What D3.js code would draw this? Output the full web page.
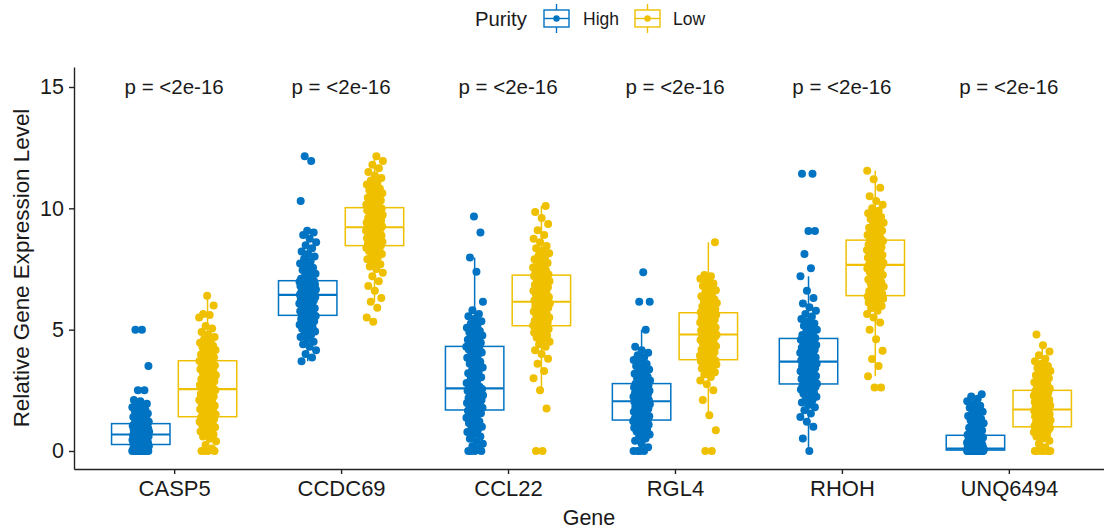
<!DOCTYPE html>
<html><head><meta charset="utf-8">
<script src="https://cdn.jsdelivr.net/npm/d3@7"></script>
<style>
body{margin:0;background:#fff}
svg{display:block}
text{font-family:"Liberation Sans",Arial,sans-serif}
</style>
</head><body>
<svg id="chart" width="1104" height="531"></svg>
<script>
// ---------- data ----------
const genes = ["CASP5","CCDC69","CCL22","RGL4","RHOH","UNQ6494"];
const groups = ["High","Low"];
const groupColors = ["#0073C2","#EFC000"];
const yTicks = [0,5,10,15];
const pLabels = ["p = <2e-16","p = <2e-16","p = <2e-16","p = <2e-16","p = <2e-16","p = <2e-16"];
const pLabelY = 15;

const casp5High = [0,0,0,0,0,0,0,0,0,0,0,0,0.03,0.05,0.08,0.1,0.12,0.14,0.16,0.18,0.2,0.21,0.23,0.24,0.26,
0.27,0.29,0.31,0.33,0.35,0.37,0.39,0.41,0.43,0.45,0.47,0.49,0.51,0.53,0.55,0.57,0.58,0.6,0.61,0.62,0.63,0.64,0.65,0.66,0.67,
0.69,0.71,0.73,0.75,0.77,0.79,0.8,0.82,0.84,0.86,0.88,0.9,0.92,0.94,0.96,0.98,1.0,1.02,1.04,1.06,1.08,1.09,1.1,1.11,1.12,
1.15,1.2,1.24,1.28,1.32,1.36,1.4,1.45,1.5,1.55,1.6,1.65,1.7,1.75,1.8,1.85,1.9,1.95,2.05,2.1,2.5,2.5,3.5,5.0,5.0];
const casp5Low = [0,0,0,0,0.1,0.25,0.4,0.5,0.6,0.68,0.75,0.8,0.86,0.92,0.98,1.03,1.08,1.12,1.16,1.2,1.24,1.28,1.32,1.36,1.39,
1.42,1.46,1.5,1.55,1.6,1.64,1.68,1.72,1.77,1.82,1.86,1.9,1.95,2.0,2.05,2.1,2.15,2.2,2.25,2.3,2.35,2.4,2.45,2.5,2.53,
2.57,2.62,2.67,2.72,2.77,2.82,2.87,2.92,2.97,3.02,3.07,3.12,3.17,3.22,3.27,3.32,3.37,3.42,3.47,3.52,3.56,3.6,3.64,3.68,3.71,
3.75,3.8,3.86,3.92,3.98,4.04,4.1,4.16,4.22,4.28,4.34,4.4,4.46,4.52,4.6,4.7,4.8,4.9,5.05,5.15,5.5,5.6,5.65,6.0,6.4];
const ccdc69High = [3.7,3.85,4.0,4.15,4.3,4.4,4.5,4.6,4.7,4.78,4.85,4.92,4.98,5.04,5.1,5.15,5.2,5.25,5.3,5.35,5.4,5.44,5.48,5.52,5.56,
5.6,5.64,5.68,5.72,5.76,5.8,5.84,5.88,5.92,5.96,6.0,6.04,6.08,6.12,6.16,6.2,6.24,6.27,6.3,6.33,6.35,6.37,6.39,6.41,6.42,
6.44,6.46,6.48,6.5,6.53,6.56,6.59,6.62,6.65,6.68,6.71,6.74,6.77,6.8,6.83,6.85,6.87,6.89,6.91,6.93,6.95,6.97,6.99,7.0,7.01,
7.04,7.1,7.16,7.22,7.3,7.38,7.46,7.55,7.64,7.73,7.82,7.92,8.02,8.12,8.22,8.35,8.48,8.6,8.75,8.9,9.0,9.08,10.3,11.95,12.15];
const ccdc69Low = [5.33,5.5,5.9,6.15,6.3,6.6,6.8,7.0,7.2,7.35,7.5,7.6,7.7,7.8,7.9,7.98,8.05,8.12,8.18,8.24,8.29,8.33,8.37,8.41,8.44,
8.47,8.5,8.53,8.56,8.59,8.62,8.65,8.68,8.71,8.74,8.77,8.8,8.84,8.88,8.92,8.96,9.0,9.04,9.08,9.11,9.14,9.16,9.18,9.2,9.21,
9.23,9.26,9.29,9.32,9.35,9.38,9.41,9.44,9.48,9.52,9.56,9.6,9.64,9.68,9.72,9.76,9.8,9.84,9.88,9.92,9.95,9.97,9.99,10.01,10.02,
10.05,10.1,10.15,10.2,10.26,10.32,10.38,10.44,10.5,10.56,10.62,10.68,10.75,10.82,10.9,10.98,11.06,11.15,11.25,11.35,11.5,11.65,11.8,11.95,12.15];
const ccl22High = [0,0,0,0,0.1,0.2,0.3,0.4,0.5,0.6,0.7,0.78,0.86,0.94,1.0,1.08,1.15,1.22,1.3,1.37,1.44,1.5,1.56,1.62,1.66,
1.7,1.74,1.78,1.82,1.86,1.9,1.94,1.98,2.02,2.06,2.1,2.14,2.18,2.22,2.26,2.3,2.34,2.38,2.42,2.45,2.48,2.51,2.53,2.55,2.57,
2.59,2.65,2.72,2.8,2.88,2.96,3.04,3.12,3.2,3.28,3.36,3.44,3.52,3.6,3.68,3.76,3.84,3.92,4.0,4.06,4.12,4.18,4.23,4.27,4.3,
4.34,4.4,4.46,4.52,4.58,4.64,4.7,4.76,4.82,4.88,4.94,5.0,5.08,5.16,5.25,5.35,5.45,5.55,5.65,5.8,6.15,7.39,7.97,9.0,9.66];
const ccl22Low = [0,0,1.75,2.5,3.0,3.3,3.6,3.8,4.0,4.15,4.3,4.4,4.5,4.6,4.68,4.75,4.82,4.88,4.94,4.99,5.03,5.07,5.1,5.12,5.14,
5.17,5.21,5.25,5.29,5.33,5.37,5.41,5.45,5.5,5.55,5.6,5.65,5.7,5.75,5.8,5.85,5.9,5.94,5.98,6.02,6.05,6.08,6.1,6.12,6.14,
6.16,6.2,6.25,6.3,6.35,6.4,6.45,6.5,6.55,6.6,6.65,6.7,6.75,6.8,6.85,6.9,6.95,7.0,7.05,7.1,7.14,7.18,7.21,7.23,7.24,
7.27,7.32,7.38,7.44,7.5,7.56,7.62,7.68,7.75,7.82,7.9,7.98,8.06,8.15,8.25,8.35,8.45,8.6,8.75,8.9,9.1,9.35,9.6,9.85,10.1];
const rgl4High = [0,0,0,0,0.15,0.3,0.42,0.52,0.6,0.68,0.74,0.8,0.86,0.91,0.96,1.0,1.04,1.08,1.12,1.15,1.18,1.21,1.23,1.25,1.26,
1.28,1.31,1.34,1.37,1.4,1.43,1.46,1.5,1.54,1.58,1.62,1.66,1.7,1.74,1.78,1.82,1.86,1.9,1.93,1.96,1.98,2.0,2.02,2.03,2.04,
2.06,2.09,2.12,2.15,2.18,2.21,2.24,2.27,2.3,2.33,2.36,2.39,2.42,2.45,2.48,2.51,2.54,2.57,2.6,2.63,2.66,2.69,2.72,2.75,2.77,
2.8,2.85,2.9,2.95,3.0,3.06,3.12,3.18,3.24,3.3,3.36,3.42,3.5,3.58,3.66,3.75,3.85,3.95,4.05,4.15,4.3,5.0,6.15,6.15,7.37];
const rgl4Low = [0,0,0.85,1.47,2.1,2.5,2.75,2.9,3.05,3.15,3.25,3.33,3.4,3.46,3.52,3.56,3.6,3.63,3.66,3.68,3.7,3.71,3.72,3.73,3.74,
3.77,3.82,3.87,3.92,3.97,4.02,4.07,4.12,4.17,4.22,4.27,4.32,4.37,4.42,4.47,4.52,4.57,4.62,4.66,4.7,4.73,4.75,4.77,4.78,4.79,
4.81,4.85,4.89,4.93,4.97,5.01,5.05,5.09,5.13,5.17,5.21,5.25,5.29,5.33,5.37,5.41,5.45,5.49,5.53,5.57,5.61,5.64,5.66,5.68,5.69,
5.72,5.76,5.8,5.85,5.9,5.95,6.0,6.05,6.1,6.15,6.2,6.25,6.3,6.38,6.46,6.54,6.62,6.7,6.8,6.9,7.0,7.1,7.2,7.25,8.6];
const rhohHigh = [0,0.51,1.0,1.2,1.4,1.55,1.68,1.8,1.9,2.0,2.08,2.16,2.24,2.3,2.36,2.42,2.48,2.53,2.57,2.61,2.64,2.67,2.7,2.72,2.74,
2.77,2.81,2.85,2.89,2.93,2.97,3.01,3.05,3.09,3.13,3.17,3.21,3.25,3.29,3.33,3.37,3.41,3.45,3.49,3.53,3.57,3.6,3.63,3.65,3.67,
3.69,3.73,3.77,3.81,3.85,3.89,3.93,3.97,4.01,4.05,4.09,4.13,4.17,4.21,4.25,4.29,4.33,4.37,4.41,4.45,4.5,4.54,4.58,4.61,4.63,
4.66,4.72,4.78,4.85,4.92,5.0,5.08,5.16,5.25,5.34,5.44,5.54,5.65,5.78,5.92,6.08,6.3,6.6,7.2,7.53,8.12,9.07,9.07,11.42,11.42];
const rhohLow = [2.62,2.62,3.08,3.5,3.79,4.13,4.6,5.0,5.3,5.5,5.65,5.78,5.88,5.97,6.05,6.12,6.18,6.23,6.27,6.3,6.32,6.34,6.36,6.37,6.38,
6.41,6.47,6.53,6.59,6.65,6.71,6.77,6.83,6.89,6.95,7.01,7.07,7.13,7.19,7.25,7.31,7.37,7.42,7.47,7.52,7.56,7.6,7.63,7.65,7.66,
7.68,7.72,7.76,7.8,7.84,7.88,7.92,7.96,8.0,8.04,8.08,8.12,8.16,8.2,8.24,8.28,8.32,8.36,8.4,8.45,8.5,8.55,8.6,8.65,8.68,
8.72,8.78,8.84,8.9,8.96,9.02,9.08,9.14,9.2,9.27,9.34,9.41,9.48,9.56,9.64,9.72,9.8,9.9,10.0,10.15,10.3,10.5,10.85,11.2,11.55];
const unq6494High = [0,0,0,0,0,0,0,0,0,0,0,0,0,0,0,0,0,0,0,0,0,0,0.01,0.02,0.03,
0.04,0.045,0.05,0.055,0.06,0.065,0.07,0.072,0.074,0.076,0.078,0.08,0.082,0.084,0.086,0.088,0.09,0.092,0.094,0.096,0.097,0.098,0.099,0.1,0.1,
0.1,0.12,0.14,0.16,0.18,0.2,0.22,0.24,0.26,0.28,0.3,0.32,0.34,0.36,0.38,0.41,0.44,0.47,0.5,0.53,0.56,0.59,0.61,0.63,0.64,
0.67,0.72,0.78,0.84,0.9,0.96,1.02,1.08,1.14,1.2,1.26,1.32,1.38,1.44,1.5,1.55,1.62,1.7,1.78,1.86,1.95,2.05,2.15,2.25,2.34];
const unq6494Low = [0,0,0,0,0,0,0.15,0.3,0.42,0.52,0.6,0.66,0.72,0.77,0.81,0.84,0.87,0.89,0.91,0.93,0.95,0.96,0.97,0.98,0.985,
1.0,1.03,1.06,1.09,1.12,1.15,1.18,1.21,1.24,1.27,1.3,1.33,1.36,1.39,1.42,1.45,1.48,1.51,1.54,1.57,1.6,1.63,1.66,1.68,1.7,
1.72,1.75,1.78,1.81,1.84,1.87,1.9,1.93,1.96,1.99,2.02,2.05,2.08,2.11,2.14,2.17,2.2,2.24,2.28,2.32,2.36,2.4,2.44,2.47,2.49,
2.53,2.58,2.63,2.68,2.73,2.78,2.83,2.88,2.94,3.0,3.06,3.12,3.18,3.24,3.3,3.36,3.42,3.5,3.6,3.7,3.8,3.95,4.1,4.36,4.8];

const seriesByGene = {
  CASP5:[casp5High,casp5Low], CCDC69:[ccdc69High,ccdc69Low], CCL22:[ccl22High,ccl22Low],
  RGL4:[rgl4High,rgl4Low], RHOH:[rhohHigh,rhohLow], UNQ6494:[unq6494High,unq6494Low]
};

// ---------- layout ----------
const W = 1104, H = 531;
const plotL = 74, plotR = 1109, plotT = 67, plotB = 469;
const svg = d3.select("#chart");
svg.append("rect").attr("width",W).attr("height",H).attr("fill","#fff");

const x = d3.scalePoint().domain(genes).range([plotL,plotR]).padding(0.6);
const step = x.step();
const dodge = d3.scaleBand().domain(groups).range([-0.4*step,0.4*step]);
const boxW = 0.35*step;
const y = d3.scaleLinear().domain([-0.742,15.824]).range([plotB,plotT]);
const color = d3.scaleOrdinal().domain(groups).range(groupColors);

function stats(vals){
  const s = vals.slice().sort(d3.ascending);
  const q1 = d3.quantile(s,0.25), med = d3.quantile(s,0.5), q3 = d3.quantile(s,0.75);
  const iqr = q3-q1;
  const lo = d3.min(s.filter(v=>v>=q1-1.5*iqr));
  const hi = d3.max(s.filter(v=>v<=q3+1.5*iqr));
  return {q1,med,q3,lo,hi};
}

const boxes = [];
const points = [];
genes.forEach((g,gi)=>{
  groups.forEach((grp,k)=>{
    const vals = seriesByGene[g][k];
    const cx = x(g)+dodge(grp)+dodge.bandwidth()/2;
    boxes.push({gene:g,group:grp,cx,...stats(vals)});
    vals.forEach((v,i)=>{
      const j = ((i*0.6180339887 + gi*0.137 + k*0.291) % 1)*2-1;
      points.push({gene:g,group:grp,v,cx,j});
    });
  });
});

// boxes
const bg = svg.append("g");
const bx = bg.selectAll("g").data(boxes).join("g")
  .attr("stroke",d=>color(d.group)).attr("stroke-width",1.5).attr("fill","none");
bx.append("line").attr("x1",d=>d.cx).attr("x2",d=>d.cx).attr("y1",d=>y(d.hi)).attr("y2",d=>y(d.q3));
bx.append("line").attr("x1",d=>d.cx).attr("x2",d=>d.cx).attr("y1",d=>y(d.q1)).attr("y2",d=>y(d.lo));
bx.append("rect").attr("x",d=>d.cx-boxW/2).attr("width",boxW)
  .attr("y",d=>y(d.q3)).attr("height",d=>y(d.q1)-y(d.q3)).attr("fill","#fff");
bx.append("line").attr("x1",d=>d.cx-boxW/2).attr("x2",d=>d.cx+boxW/2)
  .attr("y1",d=>y(d.med)).attr("y2",d=>y(d.med)).attr("stroke-width",2.2);

// jitter points
svg.append("g").selectAll("circle").data(points).join("circle")
  .attr("cx",d=>d.cx+d.j*8.5).attr("cy",d=>y(d.v)).attr("r",4)
  .attr("fill",d=>color(d.group));

// axes
const yAxis = svg.append("g").attr("transform",`translate(${plotL},0)`)
  .call(d3.axisLeft(y).tickValues(yTicks).tickSize(5).tickSizeOuter(0).tickPadding(5));
const xAxis = svg.append("g").attr("transform",`translate(0,${plotB})`)
  .call(d3.axisBottom(x).tickSize(5).tickSizeOuter(0).tickPadding(6));
[yAxis,xAxis].forEach(a=>{
  a.select(".domain").attr("stroke","#222").attr("stroke-width",1.4);
  a.selectAll(".tick line").attr("stroke","#222").attr("stroke-width",1.4);
  a.selectAll(".tick text").attr("fill","#1a1a1a")
    .attr("font-family",'"Liberation Sans",Arial,sans-serif');
});
yAxis.selectAll(".tick text").attr("font-size",21.5);
xAxis.selectAll(".tick text").attr("font-size",22);

// p labels
svg.append("g").selectAll("text").data(genes).join("text")
  .attr("x",d=>x(d)).attr("y",y(pLabelY)).attr("dy","0.35em")
  .attr("text-anchor","middle").attr("font-size",20.5).attr("fill","#1a1a1a")
  .text((d,i)=>pLabels[i]);

// axis titles
svg.append("text").attr("x",(plotL+1104)/2).attr("y",525).attr("text-anchor","middle")
  .attr("font-size",21.5).attr("fill","#1a1a1a").text("Gene");
svg.append("text").attr("transform",`translate(29,${(plotT+plotB)/2}) rotate(-90)`)
  .attr("text-anchor","middle").attr("font-size",22.4).attr("fill","#1a1a1a")
  .text("Relative Gene Expression Level");

// legend
const lg = svg.append("g");
lg.append("text").attr("x",475).attr("y",26).attr("font-size",20.3).attr("fill","#1a1a1a").text("Purity");
const keyX = [544,635], labX = [583,673];
groups.forEach((grp,k)=>{
  const g = lg.append("g").attr("stroke",color(grp)).attr("stroke-width",1.4).attr("fill","none");
  const kx = keyX[k], cxk = kx+12.5;
  g.append("line").attr("x1",cxk).attr("x2",cxk).attr("y1",4).attr("y2",33);
  g.append("rect").attr("x",kx).attr("y",10).attr("width",25).attr("height",17).attr("fill","#fff");
  g.append("line").attr("x1",kx).attr("x2",kx+25).attr("y1",18.5).attr("y2",18.5);
  lg.append("circle").attr("cx",cxk).attr("cy",18.5).attr("r",3.2).attr("fill",color(grp));
  lg.append("text").attr("x",labX[k]).attr("y",25).attr("font-size",17.5).attr("fill","#1a1a1a").text(grp);
});
</script>
</body></html>
